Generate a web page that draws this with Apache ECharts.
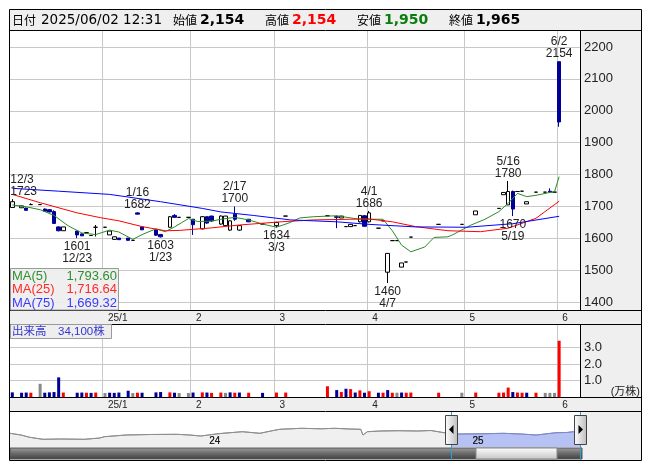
<!DOCTYPE html>
<html><head><meta charset="utf-8">
<script src="https://cdn.jsdelivr.net/npm/echarts@6/dist/echarts.min.js"></script>
<style>html,body{margin:0;padding:0;background:#fff}#c{width:653px;height:470px}</style>
</head><body><div id="c"></div><script>
// ---------- data ----------
const axisDays = ['12/3','12/4','12/5','12/6','12/9','12/10','12/11','12/12','12/13','12/16','12/17','12/18','12/19','12/20','12/23','12/24','12/25','12/26','12/27','12/30',
'1/6','1/7','1/8','1/9','1/10','1/14','1/15','1/16','1/17','1/20','1/21','1/22','1/23','1/24','1/27','1/28','1/29','1/30','1/31',
'2/3','2/4','2/5','2/6','2/7','2/10','2/12','2/13','2/14','2/17','2/18','2/19','2/20','2/21','2/25','2/26','2/27','2/28',
'3/3','3/4','3/5','3/6','3/7','3/10','3/11','3/12','3/13','3/14','3/17','3/18','3/19','3/21','3/24','3/25','3/26','3/27','3/28','3/31',
'4/1','4/2','4/3','4/4','4/7','4/8','4/9','4/10','4/11','4/14','4/15','4/16','4/17','4/18','4/21','4/22','4/23','4/24','4/25','4/28','4/30',
'5/1','5/2','5/7','5/8','5/9','5/12','5/13','5/14','5/15','5/16','5/19','5/20','5/21','5/22','5/23','5/26','5/27','5/28','5/29','5/30',
'6/2','6/3','6/4','6/5','6/6'];

const tradeDates = ['12/3','12/5','12/6','12/9','12/11','12/12','12/13','12/16','12/17','12/18','12/23','12/24','12/25','12/26','12/27',
'1/6','1/7','1/8','1/9','1/14','1/15','1/16','1/17','1/22','1/23','1/27','1/28','1/29','1/31',
'2/3','2/5','2/6','2/7','2/12','2/13','2/14','2/17','2/18','2/20','2/26',
'3/3','3/5','3/18','3/21','3/24','3/25','3/26','3/27','3/28','3/31',
'4/1','4/3','4/4','4/7','4/8','4/9','4/10','4/11','4/14','4/22','4/30',
'5/7','5/14','5/15','5/16','5/19','5/20','5/21','5/22','5/26','5/28','5/29','5/30','6/2'];
const opens  = [1697,1696,1695,1706,1706,1692,1690,1684,1636,1624,1623,1614,1618,1609,1635,
1635,1611,1597,1601,1601,1594,1680,1636,1626,1612,1635,1672,1666,1666,
1660,1630,1668,1670,1645,1640,1626,1676,1626,1660,1645,
1640,1670,1671,1668,1664,1637,1637,1640,1652,1671,
1652,1632,1655,1494,1593,1593,1510,1526,1604,1644,1644,
1674,1694,1737,1705,1747,1747,1748,1708,1745,1745,1748,1745,2154];
const highs  = [1723,1702,1696,1710,1706,1694,1692,1688,1638,1636,1624,1616,1618,1609,1642,
1635,1623,1606,1601,1601,1594,1682,1637,1628,1614,1670,1676,1666,1666,
1661,1670,1669,1671,1672,1670,1656,1700,1640,1661,1645,
1652,1670,1671,1672,1670,1637,1644,1640,1673,1673,
1686,1632,1655,1553,1595,1593,1523,1526,1604,1644,1644,
1686,1694,1744,1780,1750,1747,1748,1715,1745,1745,1757,1745,2154];
const lows   = [1697,1696,1687,1706,1706,1684,1682,1645,1622,1624,1601,1608,1618,1609,1606,
1635,1611,1595,1595,1593,1594,1676,1626,1608,1603,1635,1666,1666,1666,
1611,1628,1646,1652,1643,1638,1624,1655,1624,1651,1645,
1634,1670,1671,1632,1664,1637,1637,1640,1650,1637,
1650,1632,1655,1460,1593,1593,1510,1526,1604,1644,1644,
1674,1694,1737,1705,1670,1747,1748,1708,1745,1745,1745,1745,1950];
const closes = [1715,1702,1688,1706,1706,1685,1683,1647,1624,1636,1611,1608,1618,1609,1635,
1635,1623,1605,1596,1594,1594,1676,1627,1610,1605,1668,1666,1666,1666,
1643,1668,1648,1655,1670,1670,1655,1660,1640,1652,1645,
1650,1670,1671,1666,1670,1637,1644,1640,1672,1638,
1680,1632,1655,1553,1593,1593,1523,1526,1604,1644,1644,
1686,1694,1744,1747,1692,1747,1748,1715,1745,1745,1745,1745,1965];
// volume in 万株 (10,000 shares)
const volumes = [0.28,0.26,0.27,0.26,0.80,0.26,0.28,0.30,1.19,0.27,0.26,0.27,0.26,0.25,0.27,
0.24,0.26,0.25,0.27,0.38,0.24,0.26,0.26,0.28,0.30,0.28,0.26,0.24,0.24,
0.27,0.28,0.27,0.25,0.27,0.25,0.28,0.26,0.27,0.26,0.25,
0.27,0.27,0.65,0.42,0.30,0.50,0.48,0.27,0.40,0.26,
0.35,0.26,0.26,0.42,0.26,0.26,0.27,0.26,0.27,0.26,0.26,
0.27,0.26,0.27,0.57,0.30,0.27,0.26,0.26,0.26,0.25,0.25,0.25,3.41];
const prevCloseBefore = 1720;

const ma5 = [['12/3',1705],['12/6',1699],['12/11',1690],['12/16',1672],['12/19',1640],['12/24',1617],['12/27',1612],['1/7',1626],['1/9',1620],['1/15',1597],['1/17',1612],['1/22',1630],['1/24',1621],['1/28',1636],['1/31',1662],['2/4',1653],['2/7',1654],['2/12',1660],['2/17',1666],['2/20',1658],['2/26',1645],['3/3',1635],['3/6',1650],['3/10',1664],['3/13',1668],['3/21',1671],['3/27',1662],['4/1',1660],['4/4',1660],['4/8',1624],['4/10',1579],['4/14',1558],['4/16',1568],['4/17',1573],['4/21',1603],['4/24',1605],['4/25',1611],['5/2',1642],['5/9',1660],['5/14',1684],['5/16',1710],['5/20',1741],['5/22',1731],['5/26',1735],['5/29',1744],['5/30',1746],['6/2',1793.60]];
const ma25 = [['12/3',1738],['12/11',1712],['12/23',1680],['12/30',1665],['1/9',1655],['1/17',1637],['1/24',1624],['1/29',1625],['2/7',1633],['2/18',1642],['3/4',1652],['3/13',1658],['3/26',1660],['4/1',1661],['4/8',1652],['4/15',1637],['4/24',1624],['5/8',1621],['5/16',1632],['5/26',1663],['6/2',1716.64]];
const ma75 = [['12/3',1757],['12/17',1748],['1/7',1738],['1/23',1715],['2/5',1694],['2/12',1683],['2/21',1672],['3/6',1658],['3/21',1652],['4/1',1644],['4/15',1636],['5/1',1635],['5/19',1646],['6/2',1669.32]];

const monthStarts = ['1/6','2/3','3/3','4/1','5/1','6/2'];
const monthLabels = ['25/1','2','3','4','5','6'];
const highMarkDates = ['12/3','1/16','2/17','4/1','5/16','6/2'];
const lowMarkDates = ['12/23','1/23','3/3','4/7','5/19'];
const priceMin = 1400, priceMax = 2200, priceStep = 100;
const volMax = 4, volStep = 1;
const headerStamp = '2025/06/02 12:31';

// long-range overview (x = months since 2023-04, y = price level)
const overview = [[0,1712],[0.5,1500],[0.9,1212],[1.5,962],[2.3,1000],[3.4,962],[4.1,1125],[4.3,1287],[5.3,1500],[6.4,1562],[7.6,1587],[8.2,1500],[8.7,1375],[9.4,1625],[9.7,1712],[10.6,1912],[11.4,1712],[11.9,2000],[12.3,2212],[13.3,2337],[14.2,2275],[14.8,2337],[15.5,2250],[16.0,2212],[16.1,1500],[16.3,1912],[16.9,2000],[17.7,2037],[18.6,2000],[19.2,2062],[19.8,1787],[20.5,1625],[21.5,1650],[22.5,1712],[23.3,1625],[24.0,1500],[24.4,1625],[24.9,1787],[25.4,1812],[25.7,1912],[26,1937]];
const overviewYearPos = [9,21];
const overviewYearLabels = ['24','25'];
const overviewMax = 26, overviewYMax = 4125;
const windowStart = 20.1, windowEnd = 26;

// ---------- build ----------
const FONT = '"Liberation Sans","Noto Sans CJK JP",sans-serif';
const tIdx = {}; tradeDates.forEach((d,i)=>tIdx[d]=i);
const candleData = axisDays.map(d => { const i=tIdx[d]; return i===undefined ? '-' : [opens[i],closes[i],lows[i],highs[i]]; });
const volData = axisDays.map(d => {
  const i=tIdx[d]; if (i===undefined) return '-';
  const prev = i===0 ? prevCloseBefore : closes[i-1];
  const col = closes[i]>prev ? '#ff0000' : (closes[i]<prev ? '#000099' : '#888888');
  return {value: volumes[i], itemStyle:{color: col}};
});
const isMonthStart = (idx, val) => monthStarts.indexOf(val) >= 0;
const markData = highMarkDates.map(d => {
  const i=tIdx[d];
  const lab = {position:'top', distance:1, formatter: d+'\n'+highs[i]};
  if (axisDays.indexOf(d) < 3) { lab.align='left'; lab.offset=[-2,0]; }
  return {coord:[d, highs[i]], value: highs[i], label: lab};
}).concat(lowMarkDates.map(d => {
  const i=tIdx[d];
  return {coord:[d, lows[i]], value: lows[i], label:{position:'bottom', distance:2, formatter: lows[i]+'\n'+d}};
}));

const L = 10, W = 570;
const ovLeft = L, ovWidth = W;
const wsFrac = windowStart/overviewMax;
const hardGrad = (c1, c2) => ({type:'linear', global:true, x:ovLeft, y:0, x2:ovLeft+ovWidth, y2:0,
  colorStops:[{offset:0,color:c1},{offset:wsFrac,color:c1},{offset:wsFrac,color:c2},{offset:1,color:c2}]});
function catAxis(gi, showLabels, showSplit) {
  return {type:'category', gridIndex:gi, data:axisDays, boundaryGap:true,
    axisLine:{show:false}, axisTick:{show:false},
    axisLabel:{show:showLabels, interval:isMonthStart, formatter:v=>monthLabels[monthStarts.indexOf(v)]||'',
      align:'left', padding:[0,0,0,3], margin:3, fontSize:10, color:'#222', fontFamily:FONT},
    splitLine:{show:showSplit, interval:isMonthStart, lineStyle:{color:'#c8c8c8', width:1}}};
}
const chart = echarts.init(document.getElementById('c'));
const option = {
  animation:false,
  textStyle:{fontFamily:FONT},
  grid:[
    {left:L, top:30, width:W, height:280},
    {left:L, top:47, width:W, height:255.2},
    {left:L, top:324, width:W, height:73},
    {left:L, top:331, width:W, height:66},
    {left:ovLeft, top:414, width:ovWidth, height:33}
  ],
  xAxis:[
    catAxis(0,true,true), catAxis(1,false,false), catAxis(2,true,true), catAxis(3,false,false),
    {type:'value', gridIndex:4, min:0, max:overviewMax, interval:1, z:20, axisLine:{show:false}, axisTick:{show:false}, splitLine:{show:false},
     axisLabel:{inside:true, margin:1, align:'left', padding:[0,0,0,2], fontSize:10, color:'#222',
       formatter:v=>{const k=overviewYearPos.indexOf(v); return k>=0?overviewYearLabels[k]:'';}}}
  ],
  yAxis:[
    {type:'value', gridIndex:0, min:0, max:1, show:false},
    {type:'value', gridIndex:1, position:'right', min:priceMin, max:priceMax, interval:priceStep,
      axisLine:{show:false}, axisTick:{show:false},
      axisLabel:{margin:4, fontSize:13, color:'#222', fontFamily:FONT, formatter:v=>String(v)},
      splitLine:{lineStyle:{color:'#c8c8c8'}}},
    {type:'value', gridIndex:2, min:0, max:1, show:false},
    {type:'value', gridIndex:3, position:'right', min:0, max:volMax, interval:volStep,
      axisLine:{show:false}, axisTick:{show:false},
      axisLabel:{margin:4, fontSize:13, color:'#222', formatter:v=>(v>0&&v<volMax)?v.toFixed(1):''},
      splitLine:{show:true, showMinLine:false, showMaxLine:false, lineStyle:{color:'#c8c8c8'}}},
    {type:'value', gridIndex:4, min:0, max:overviewYMax, show:false}
  ],
  series:[
    {type:'candlestick', xAxisIndex:1, yAxisIndex:1, data:candleData, barWidth:4,
      itemStyle:{color:'#ffffff', color0:'#000099', borderColor:'#000000', borderColor0:'#000099', borderColorDoji:'#000000', borderWidth:1},
      markPoint:{symbol:'rect', symbolSize:[1,1], itemStyle:{color:'rgba(0,0,0,0)'},
        label:{show:true, fontSize:12, lineHeight:12, color:'#222', fontFamily:FONT}, data:markData}},
    {type:'line', xAxisIndex:1, yAxisIndex:1, data:ma5, symbol:'none', lineStyle:{color:'#2a8a2a', width:1}},
    {type:'line', xAxisIndex:1, yAxisIndex:1, data:ma25, symbol:'none', lineStyle:{color:'#ff0000', width:1}},
    {type:'line', xAxisIndex:1, yAxisIndex:1, data:ma75, symbol:'none', lineStyle:{color:'#0000ff', width:1}},
    {type:'bar', xAxisIndex:3, yAxisIndex:3, data:volData, barWidth:3},
    {type:'line', xAxisIndex:4, yAxisIndex:4, data:overview, symbol:'none', z:1,
      lineStyle:{width:1, color:hardGrad('#8e8e8e','#7f88c8')},
      areaStyle:{opacity:1, color:hardGrad('#f0f0f0','#b6c2f4')}}
  ]
};
chart.setOption(option);

// ---------- decorations ----------
const fmt0 = v => v.toLocaleString('en-US');
const fmt2 = v => v.toLocaleString('en-US',{minimumFractionDigits:2, maximumFractionDigits:2});
const last = tradeDates.length-1;
const ws = chart.convertToPixel({xAxisIndex:4}, windowStart);
const we = chart.convertToPixel({xAxisIndex:4}, windowEnd);
const g = [];
const rect = (x,y,w,h,fill,z,stroke) => g.push({type:'rect', z:z, silent:true, shape:{x,y,width:w,height:h}, style:{fill:fill, stroke:stroke||null, lineWidth:1}});
const line = (x1,y1,x2,y2,color,z) => g.push({type:'line', z:z||50, silent:true, shape:{x1,y1,x2,y2}, style:{stroke:color||'#000', lineWidth:1}});
const text = (x,y,t,st) => g.push({type:'text', z:60, silent:true, x:x, y:y, style:Object.assign({text:t, fill:'#000', fontFamily:FONT, fontSize:12, verticalAlign:'middle'}, st||{})});
// backgrounds
rect(10,10,631,20,'#efefef',-10);
rect(580,30,61,431,'#efefef',-10);
rect(10,310,570,14,'#efefef',-10);
rect(10,397,570,14,'#efefef',-10);
// frame lines
line(10,30.5,641,30.5); line(10,310.5,641,310.5); line(10,324.5,641,324.5);
line(10,397.5,641,397.5); line(10,411.5,641,411.5);
line(580.5,30,580.5,310); line(580.5,324,580.5,397);
g.push({type:'rect', z:70, silent:true, shape:{x:9.5,y:9.5,width:632,height:451}, style:{fill:null, stroke:'#000', lineWidth:1}});
// header
const HF = '"DejaVu Sans","Noto Sans CJK JP",sans-serif';
const CJ = '"Noto Sans CJK JP",sans-serif';
text(12,20,'日付',{fontFamily:CJ, fontSize:12});
text(41,20,headerStamp,{fontFamily:HF, fontSize:13.5});
const hdr = [['始値',173,opens[last],'#000'],['高値',265,highs[last],'#ff0000'],['安値',357,lows[last],'#0a7d0a'],['終値',449,closes[last],'#000']];
hdr.forEach(h => { text(h[1],20,h[0],{fontFamily:CJ, fontSize:12}); text(h[1]+27,20,fmt0(h[2]),{fontFamily:HF, fontSize:14, fontWeight:'bold', fill:h[3]}); });
// MA box
g.push({type:'rect', z:55, silent:true, shape:{x:10.5,y:268.5,width:108,height:41.5}, style:{fill:'rgba(238,238,238,0.92)', stroke:'#9a9a9a', lineWidth:1}});
const maRows = [['MA(5)',ma5,'#2f8f2f'],['MA(25)',ma25,'#ff2a2a'],['MA(75)',ma75,'#3a3aff']];
maRows.forEach((r,k) => { const yy = 276+k*13.5; text(12,yy,r[0],{fontSize:13, fill:r[2]}); text(117,yy,fmt2(r[1][r[1].length-1][1]),{fontSize:13, fill:r[2], align:'right'}); });
// volume label
g.push({type:'rect', z:55, silent:true, shape:{x:10.5,y:324.5,width:101,height:14}, style:{fill:'#eeeeee', stroke:'#9a9a9a', lineWidth:1}});
text(12,332,'出来高\u3000'+fmt0(Math.round(volumes[last]*10000))+'株',{fontSize:11.5, fill:'#3434cc'});
text(640,392,'(万株)',{fontSize:11, fill:'#222', align:'right'});
// overview year labels
overviewYearPos.forEach((p,k) => { const px = chart.convertToPixel({xAxisIndex:4}, p); text(px+2,441,overviewYearLabels[k],{fontSize:10, fill:'#222'}); });
// slider decorations
rect(10,448,we-10+2,11,{type:'linear',x:0,y:0,x2:0,y2:1,colorStops:[{offset:0,color:'#a0a0a0'},{offset:0.5,color:'#6a6a6a'},{offset:1,color:'#3e3e3e'}]},40,'#555');
rect(476,448,81,11,{type:'linear',x:0,y:0,x2:0,y2:1,colorStops:[{offset:0,color:'#ffffff'},{offset:1,color:'#c4c4c4'}]},41,'#888');
line(Math.round(ws)+0.5,411,Math.round(ws)+0.5,460,'#2aa0d8',45);
line(Math.round(we)+0.5,411,Math.round(we)+0.5,460,'#2aa0d8',45);
[[ws,-1],[we,1]].forEach(h => {
  const cx = Math.round(h[0])+0.5;
  g.push({type:'rect', z:62, silent:true, shape:{x:cx-6,y:415.5,width:12,height:29}, style:{fill:{type:'linear',x:0,y:0,x2:1,y2:0,colorStops:[{offset:0,color:'#ffffff'},{offset:1,color:'#bcbcbc'}]}, stroke:'#444', lineWidth:1}});
  const d = h[1];
  g.push({type:'polygon', z:63, silent:true, shape:{points:[[cx-2*d,425],[cx-2*d,434],[cx+2.5*d,429.5]]}, style:{fill:'#000'}});
});
chart.setOption({graphic:g});
</script></body></html>
